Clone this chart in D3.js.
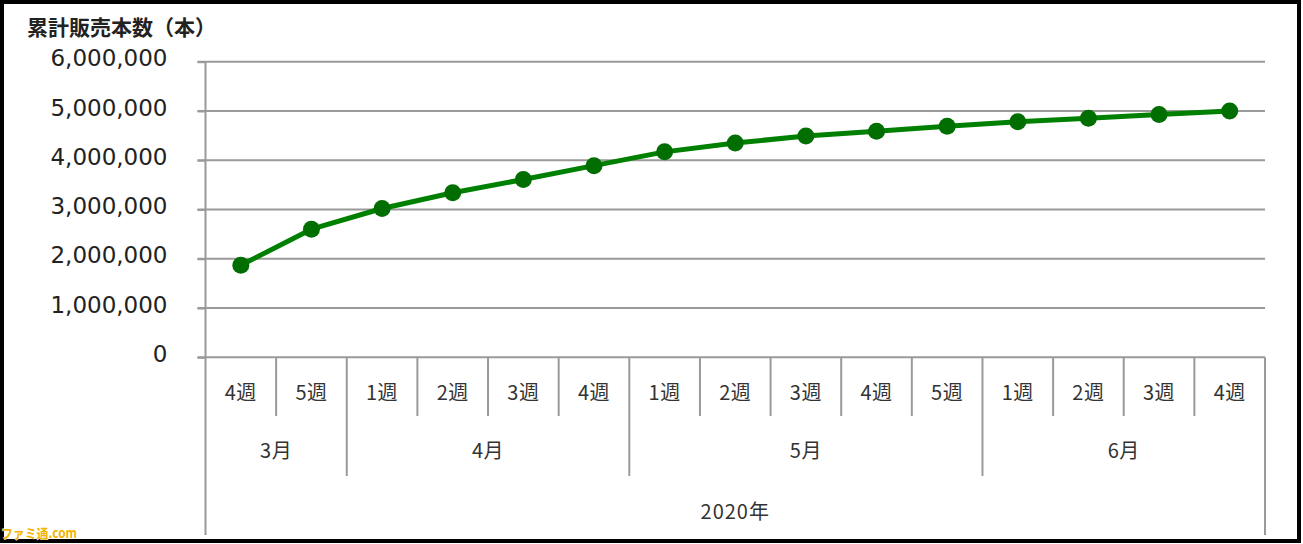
<!DOCTYPE html>
<html>
<head>
<meta charset="utf-8">
<script src="https://cdn.jsdelivr.net/npm/d3@7"></script>
<style>
  html, body { margin: 0; padding: 0; background: #fff; }
  svg { display: block; }
</style>
</head>
<body>
<svg id="chart" width="1303" height="544"></svg>
<script>
// ---- data ----
const weekLabels = ["4週","5週","1週","2週","3週","4週","1週","2週","3週","4週","5週","1週","2週","3週","4週"];
const monthOfWeek = ["3月","3月","4月","4月","4月","4月","5月","5月","5月","5月","5月","6月","6月","6月","6月"];
const months = ["3月","4月","5月","6月"];
const yearLabel = "2020年";
const values = [1870000,2600000,3020000,3340000,3610000,3890000,4170000,4350000,4490000,4590000,4690000,4780000,4850000,4930000,5000000];
const yTicks = [0,1000000,2000000,3000000,4000000,5000000,6000000];
const title = "累計販売本数（本）";
const watermark = "ファミ通.com";

(function () {
// ---- layout ----
const W = 1303, H = 544;
const plotLeft = 205.5, plotRight = 1265, plotTop = 61.7, plotBottom = 357.3;
const weekRowBottom = 416, monthRowBottom = 476, yearRowBottom = 535;
const gridColor = "#9a9a9a";

const svg = d3.select("#chart");
svg.append("rect").attr("width", W).attr("height", H).attr("fill", "#fff");

const idx = d3.range(values.length);
const x = d3.scaleBand().domain(idx).range([plotLeft, plotRight]).padding(0);
const y = d3.scaleLinear().domain([0, 6000000]).range([plotBottom, plotTop]);

// gridlines
svg.append("g")
  .selectAll("line").data(yTicks).join("line")
  .attr("x1", plotLeft - 8).attr("x2", plotRight)
  .attr("y1", d => y(d)).attr("y2", d => y(d))
  .attr("stroke", gridColor).attr("stroke-width", 2);

// y axis
const yAxis = d3.axisLeft(y).tickValues(yTicks).tickFormat(d3.format(",")).tickSize(8).tickPadding(30);
const gy = svg.append("g").attr("transform", `translate(${plotLeft},0)`).call(yAxis);
gy.select(".domain").remove();
gy.selectAll(".tick line").attr("stroke", gridColor).attr("stroke-width", 2);
gy.selectAll(".tick text")
  .attr("font-family", "'DejaVu Sans', Verdana, sans-serif")
  .attr("font-size", 23).attr("fill", "#222").attr("dy", "0.18em");

// vertical axis line down to bottom of year row
svg.append("line").attr("x1", plotLeft).attr("x2", plotLeft).attr("y1", plotTop).attr("y2", yearRowBottom)
  .attr("stroke", gridColor).attr("stroke-width", 2);
svg.append("line").attr("x1", plotRight).attr("x2", plotRight).attr("y1", plotBottom).attr("y2", yearRowBottom)
  .attr("stroke", gridColor).attr("stroke-width", 2);

// category dividers
const dividers = idx.slice(1).map(i => ({ i, monthBoundary: monthOfWeek[i] !== monthOfWeek[i - 1] }));
svg.append("g").selectAll("line").data(dividers).join("line")
  .attr("x1", d => x(d.i)).attr("x2", d => x(d.i))
  .attr("y1", plotBottom).attr("y2", d => d.monthBoundary ? monthRowBottom : weekRowBottom)
  .attr("stroke", gridColor).attr("stroke-width", 2);

const labelFont = "'Noto Sans CJK JP', sans-serif";
// week labels
svg.append("g").selectAll("text").data(idx).join("text")
  .attr("x", i => x(i) + x.bandwidth() / 2).attr("y", 393)
  .attr("dy", "0.36em").attr("text-anchor", "middle")
  .attr("font-family", labelFont).attr("font-size", 20).attr("fill", "#333")
  .attr("letter-spacing", "0.5px")
  .text(i => weekLabels[i]);

// month labels
const monthSpans = months.map(m => {
  const ii = idx.filter(i => monthOfWeek[i] === m);
  return { m, x0: x(ii[0]), x1: x(ii[ii.length - 1]) + x.bandwidth() };
});
svg.append("g").selectAll("text").data(monthSpans).join("text")
  .attr("x", d => (d.x0 + d.x1) / 2).attr("y", 451)
  .attr("dy", "0.36em").attr("text-anchor", "middle")
  .attr("font-family", labelFont).attr("font-size", 20).attr("fill", "#333")
  .attr("letter-spacing", "0.5px")
  .text(d => d.m);

// year label
svg.append("text").attr("x", (plotLeft + plotRight) / 2).attr("y", 512)
  .attr("dy", "0.36em").attr("text-anchor", "middle")
  .attr("font-family", labelFont).attr("font-size", 20).attr("fill", "#333")
  .attr("letter-spacing", "1px")
  .text(yearLabel);

// line
const line = d3.line().x(i => x(i) + x.bandwidth() / 2).y(i => y(values[i]));
svg.append("path").datum(idx).attr("d", line)
  .attr("fill", "none").attr("stroke", "#008000").attr("stroke-width", 5)
  .attr("stroke-linejoin", "round");
svg.append("g").selectAll("circle").data(idx).join("circle")
  .attr("cx", i => x(i) + x.bandwidth() / 2).attr("cy", i => y(values[i]))
  .attr("r", 8.5).attr("fill", "#006e00");

// title
svg.append("text").attr("x", 27).attr("y", 35)
  .attr("font-family", labelFont).attr("font-weight", "bold").attr("font-size", 21)
  .attr("fill", "#222").text(title);

// frame
svg.append("rect").attr("x", 2).attr("y", 2).attr("width", 1297).attr("height", 539)
  .attr("fill", "none").attr("stroke", "#000").attr("stroke-width", 4);

// watermark
svg.append("text").attr("x", 1).attr("y", 538)
  .attr("font-family", labelFont).attr("font-weight", "bold").attr("font-size", 13)
  .attr("textLength", 76).attr("lengthAdjust", "spacingAndGlyphs")
  .attr("fill", "#f2b400").attr("stroke", "#fff").attr("stroke-width", 0.8)
  .attr("paint-order", "stroke")
  .text(watermark);
})();
</script>
</body>
</html>
